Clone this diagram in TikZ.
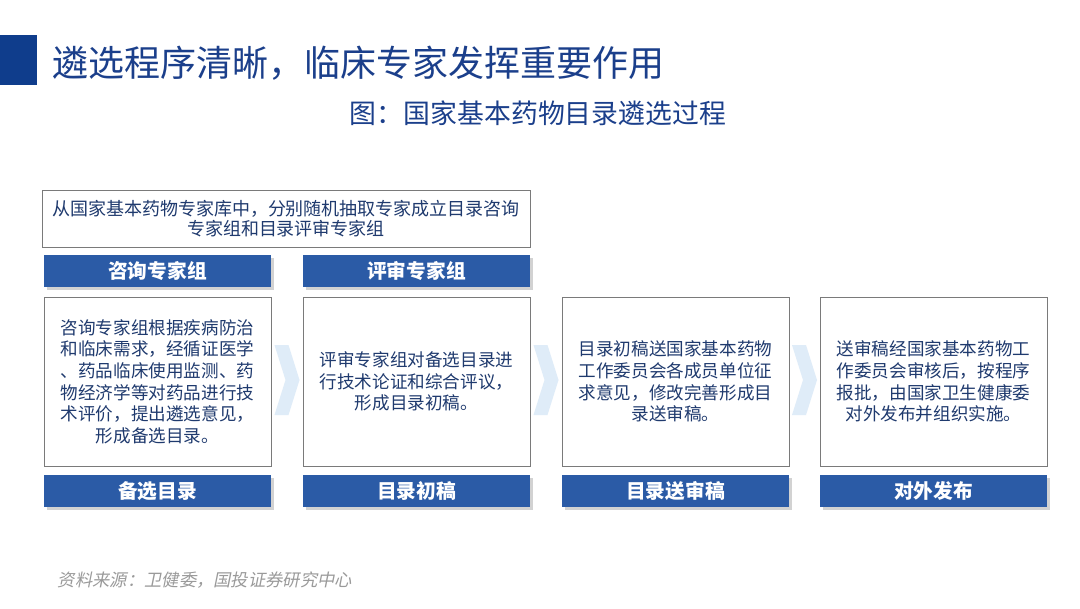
\documentclass[tikz,border=0pt]{standalone}
\usepackage{fontspec}
\setmainfont{Noto Sans CJK SC}
\newfontfamily\srcfont[FakeSlant=0.2]{Noto Sans CJK SC}
\usetikzlibrary{calc, shadows}
\definecolor{cnavy}{HTML}{0F3D8C}
\definecolor{ctitle}{HTML}{1B3F8B}
\definecolor{cbar}{HTML}{2B5BA6}
\definecolor{ctext}{HTML}{1F3A6E}
\definecolor{cline}{HTML}{7A7A7A}
\definecolor{cchev}{HTML}{DFECF8}
\definecolor{csrc}{HTML}{9A9A9A}

\begin{document}
\begin{tikzpicture}[x=0.025cm, y=0.025cm,
  bar/.style={fill=cbar, text=white, font=\fontsize{14}{16}\selectfont\bfseries,
              minimum width=5.675cm, minimum height=0.8cm, inner sep=0pt,
              drop shadow={shadow xshift=2pt, shadow yshift=-2pt, opacity=0.35}},
  cbox/.style={draw=cline, fill=white, text=ctext, align=center, inner sep=0pt,
               font=\fontsize{12.5}{15.4}\selectfont,
               minimum width=5.675cm, minimum height=4.225cm},
  chev/.style={fill=cchev}
]
\useasboundingbox[fill=white] (0,0) rectangle (1080,608);

%% -- Heading
\fill[cnavy] (0,573) rectangle (37,523);
\node[anchor=west, text=ctitle, font=\fontsize{25.6}{28}\selectfont] (title) at (48,545)
  {遴选程序清晰，临床专家发挥重要作用};
\node[text=ctitle, font=\fontsize{19.1}{21}\selectfont] (sub) at (538,495)
  {图：国家基本药物目录遴选过程};

%% -- Expert pool
\node[draw=cline, fill=white, text=ctext, align=center, font=\fontsize{12.8}{14.5}\selectfont,
      minimum width=12.2cm, minimum height=1.425cm, inner sep=0pt] (pool) at (286,389.5)
  {从国家基本药物专家库中，分别随机抽取专家成立目录咨询\\专家组和目录评审专家组};
\node[bar] (G1) at (157.5,337) {咨询专家组};
\node[bar] (G2) at (416.5,337) {评审专家组};

%% -- Process steps
\node[cbox] (B1) at (157.5,226.5) {咨询专家组根据疾病防治\\和临床需求，经循证医学\\、药品临床使用监测、药\\物经济学等对药品进行技\\术评价，提出遴选意见，\\形成备选目录。};
\node[cbox] (B2) at (416.5,226.5) {评审专家组对备选目录进\\行技术论证和综合评议，\\形成目录初稿。};
\node[cbox] (B3) at (675.5,226.5) {目录初稿送国家基本药物\\工作委员会各成员单位征\\求意见，修改完善形成目\\录送审稿。};
\node[cbox] (B4) at (933.5,226.5) {送审稿经国家基本药物工\\作委员会审核后，按程序\\报批，由国家卫生健康委\\对外发布并组织实施。};

\foreach \i/\name in {1/备选目录, 2/目录初稿, 3/目录送审稿, 4/对外发布}{
  \node[bar] (R\i) at ($(B\i.south)+(0,-25)$) {\name};
}

%% -- Chevrons between steps
\foreach \a/\b in {B1/B2, B2/B3, B3/B4}{
  \fill[chev] ($(\a.east)!0.5!(\b.west)+(-12.5,36.5)$) -- ++(14,0) -- ++(11,-35)
    -- ++(-11,-35) -- ++(-14,0) -- ++(11,35) -- cycle;
}

%% -- Source
\node[anchor=west, text=csrc, font=\srcfont\fontsize{12.3}{14}\selectfont] (src) at (53,28)
  {资料来源：卫健委，国投证券研究中心};
\end{tikzpicture}
\end{document}
